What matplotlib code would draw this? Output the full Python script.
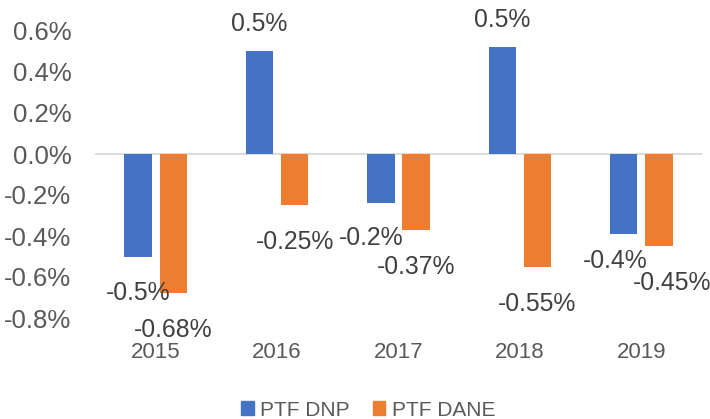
import matplotlib
matplotlib.use("Agg")
import matplotlib.pyplot as plt
import numpy as np
from matplotlib.patches import Patch

plt.rcParams['font.family'] = ['Liberation Sans', 'DejaVu Sans']

years = ["2015", "2016", "2017", "2018", "2019"]
ptf_dnp = [-0.50, 0.50, -0.24, 0.52, -0.39]
ptf_dane = [-0.68, -0.25, -0.37, -0.55, -0.45]
yticks = [-0.8, -0.6, -0.4, -0.2, 0.0, 0.2, 0.4, 0.6]

BLUE = "#4472C4"
ORANGE = "#ED7D31"
TICK = "#595959"
LABEL = "#404040"

W, H = 710, 419
fig = plt.figure(figsize=(W / 100, H / 100), dpi=100)
ax = fig.add_axes([95 / W, (H - 318) / H, 607 / W, (318 - 31) / H])

x = np.arange(len(years))
bw = 0.225
off = 0.145
b1 = ax.bar(x - off, ptf_dnp, bw, color=BLUE, zorder=3)
b2 = ax.bar(x + off, ptf_dane, bw, color=ORANGE, zorder=3)

ax.set_xlim(-0.5, len(years) - 0.5)
ax.set_ylim(-0.8, 0.6)
ax.set_yticks(yticks)
ax.set_yticklabels([f"{v:.1f}%" for v in yticks], fontsize=18.5, color=TICK)
ax.set_xticks(x)
ax.set_xticklabels(years, fontsize=16, color=TICK)
ax.tick_params(length=0)
ax.tick_params(axis='y', pad=17)
ax.tick_params(axis='x', pad=17)
ax.set_xlim(-0.5, len(years) - 0.5)
for s in ax.spines.values():
    s.set_visible(False)
ax.axhline(0, color="#D9D9D9", lw=1.3, zorder=2)

# small label nudges (pixels), layout only
nudge_dnp = {2: (-10, 2), 4: (-8, 10)}
nudge_dane = {4: (13, 0)}

def put(bars, vals, fmt, nudges):
    for i, (b, v) in enumerate(zip(bars, vals)):
        cx = b.get_x() + b.get_width() / 2
        dx, dy = nudges.get(i, (0, 0))
        oy = 27 if v > 0 else -37
        ax.annotate(fmt.format(v), (cx, v), xytext=(dx, oy + dy),
                    textcoords='offset pixels', ha='center', va='center',
                    fontsize=17.8, color=LABEL, annotation_clip=False, zorder=5)

put(b1, ptf_dnp, "{:.1f}%", nudge_dnp)
put(b2, ptf_dane, "{:.2f}%", nudge_dane)

handles = [Patch(color=BLUE, label="PTF DNP"), Patch(color=ORANGE, label="PTF DANE")]
leg = fig.legend(handles=handles, loc='center', bbox_to_anchor=(368 / W, (H - 410) / H),
                 ncol=2, frameon=False, fontsize=15, handlelength=0.62, handleheight=0.62,
                 handletextpad=0.3, columnspacing=1.1, borderpad=0)
for t in leg.get_texts():
    t.set_color(TICK)

fig.savefig("out.png", dpi=100)
